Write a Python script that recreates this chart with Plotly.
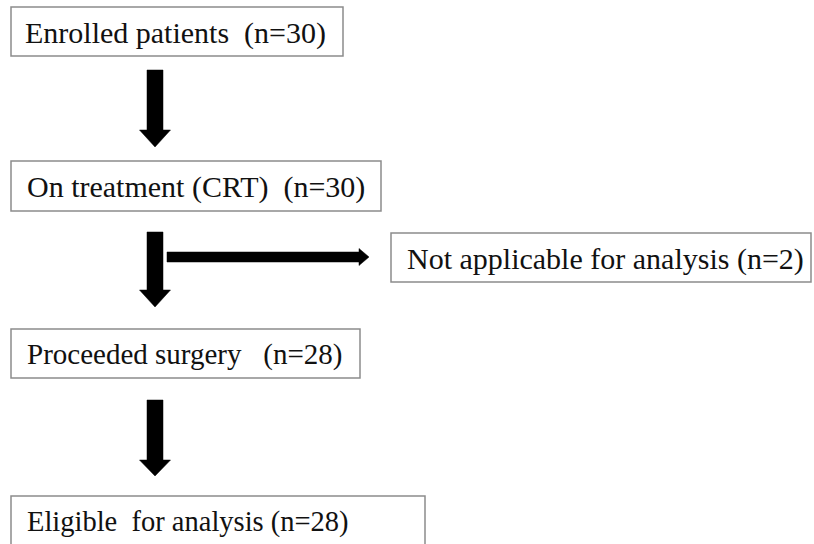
import plotly.graph_objects as go

# ---- data (flowchart content) ----
stage_labels = [
    "Enrolled patients  (n=30)",
    "On treatment (CRT)  (n=30)",
    "Not applicable for analysis (n=2)",
    "Proceeded surgery   (n=28)",
    "Eligible  for analysis (n=28)",
]
stage_counts = [30, 30, 2, 28, 28]

# ---- layout geometry (pixel coordinates, y downward) ----
box_geom = [  # x0, x1, y0, y1, text_x, font_size
    (11, 343, 7, 56, 23, 30),
    (11, 381, 161, 211, 25, 30),
    (391, 811, 233, 282, 405, 30),
    (11, 360, 329, 378, 25, 29),
    (11, 425, 496, 560, 25, 28.5),
]
# vertical arrows: x_center, y_top, y_head_start, y_tip
v_arrows = [
    (155, 70, 130, 147),
    (155, 232, 290, 307),
    (155, 400, 460, 476),
]
# horizontal arrow: x_start, x_head_start, x_tip, y_center
h_arrow = (167, 359, 369, 257)

W, H = 814, 544
fig = go.Figure()
fig.add_trace(go.Scatter(x=[0, W], y=[0, H], mode="markers",
                         marker=dict(opacity=0), hoverinfo="skip", showlegend=False))

shapes = []
annotations = []
for label, (x0, x1, y0, y1, tx, fs) in zip(stage_labels, box_geom):
    shapes.append(dict(type="rect", x0=x0, x1=x1, y0=y0, y1=y1, xref="x", yref="y",
                       line=dict(color="#8c8c8c", width=1.5), fillcolor="white"))
    annotations.append(dict(x=tx, y=(y0 + min(y1, y0 + 50)) / 2 + 1, xref="x", yref="y",
                            text=label.replace(" ", "\u00a0"), showarrow=False,
                            xanchor="left", yanchor="middle",
                            font=dict(family="Liberation Serif", size=fs, color="#111111")))

sw, hw = 8, 15.5
for xc, yt, yh, ytip in v_arrows:
    path = (f"M {xc-sw} {yt} L {xc+sw} {yt} L {xc+sw} {yh} L {xc+hw} {yh} "
            f"L {xc} {ytip} L {xc-hw} {yh} L {xc-sw} {yh} Z")
    shapes.append(dict(type="path", path=path, xref="x", yref="y",
                       fillcolor="black", line=dict(color="black", width=0.5)))

xs, xh, xt, yc = h_arrow
st, ht = 5, 8.5
path = (f"M {xs} {yc-st} L {xh} {yc-st} L {xh} {yc-ht} L {xt} {yc} "
        f"L {xh} {yc+ht} L {xh} {yc+st} L {xs} {yc+st} Z")
shapes.append(dict(type="path", path=path, xref="x", yref="y",
                   fillcolor="black", line=dict(color="black", width=0.5)))

fig.update_layout(
    width=W, height=H,
    margin=dict(l=0, r=0, t=0, b=0),
    paper_bgcolor="white", plot_bgcolor="white",
    xaxis=dict(range=[0, W], visible=False, fixedrange=True),
    yaxis=dict(range=[H, 0], visible=False, fixedrange=True),
    shapes=shapes, annotations=annotations, showlegend=False,
    hovermode=False,
)
fig.write_html("out.html", config={"displayModeBar": False, "staticPlot": True},
               post_script="document.body.style.margin='0';document.body.style.overflow='hidden';")
